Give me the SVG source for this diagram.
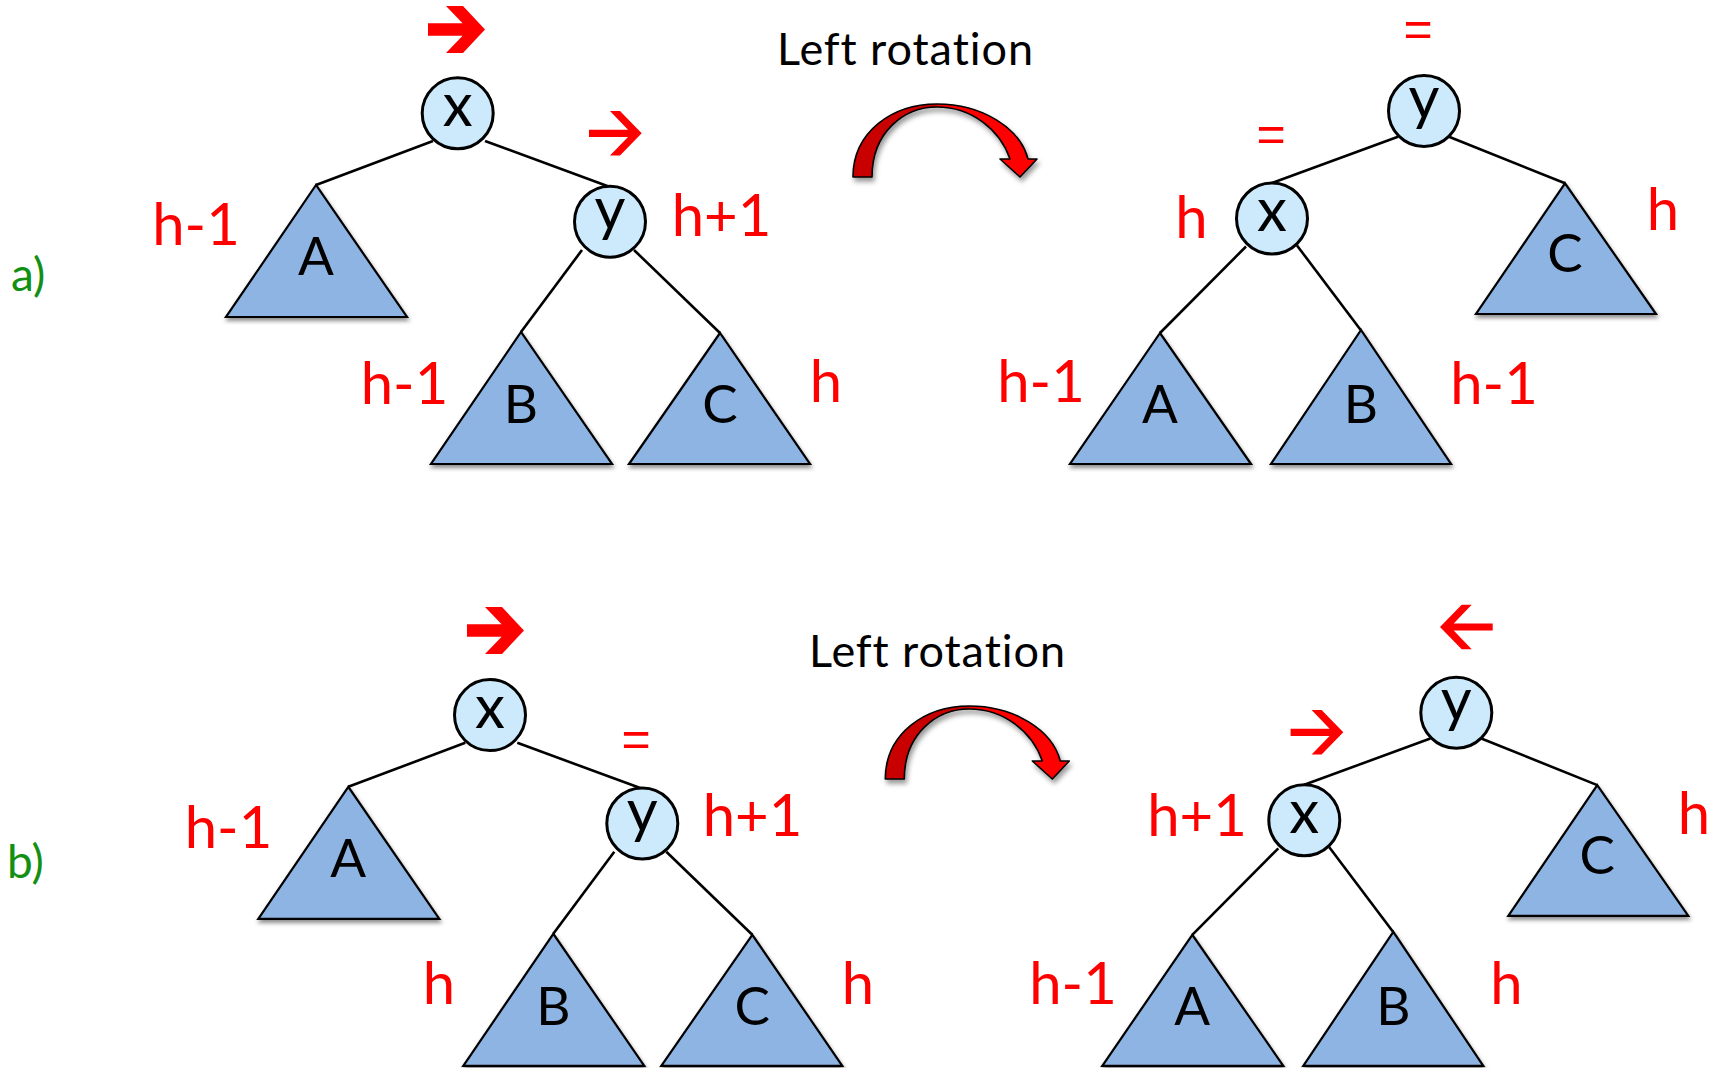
<svg xmlns="http://www.w3.org/2000/svg" width="1721" height="1068" viewBox="0 0 1721 1068">
<defs>
<style>
.edge{stroke:#000;stroke-width:2.6;fill:none}
.node{fill:#cdeafc;stroke:#000;stroke-width:3}
.tri{fill:#8eb4e3;stroke:#000;stroke-width:2.2;stroke-linejoin:miter;filter:url(#sh)}
.nl{font-family:"Lato","Liberation Sans",sans-serif;font-size:60px;fill:#000;text-anchor:middle}
.tl{font-family:"Lato","Liberation Sans",sans-serif;font-size:53px;fill:#000;text-anchor:middle}
.rl{font-family:"Lato","Liberation Sans",sans-serif;font-size:58px;fill:#ff0000;text-anchor:middle}
.eq{font-family:"Liberation Sans",sans-serif;font-size:50px;fill:#ff0000;text-anchor:middle}
.title{font-family:"Lato","Liberation Sans",sans-serif;font-size:45px;fill:#000;text-anchor:middle;font-variant-ligatures:none}
.part{font-family:"Lato","Liberation Sans",sans-serif;font-size:46px;fill:#138f13}
.red{fill:#ff0000}
.curv{fill:url(#cg);stroke:#000;stroke-width:1.6;stroke-linejoin:round;filter:url(#sh2)}
</style>
<filter id="sh" x="-10%" y="-10%" width="120%" height="130%">
<feDropShadow dx="1" dy="3" stdDeviation="2" flood-color="#000" flood-opacity="0.45"/>
</filter>
<filter id="sh2" x="-10%" y="-10%" width="130%" height="140%">
<feDropShadow dx="2" dy="4" stdDeviation="2.5" flood-color="#000" flood-opacity="0.4"/>
</filter>
<linearGradient id="cg" gradientUnits="userSpaceOnUse" x1="853" y1="0" x2="1037" y2="0">
<stop offset="0" stop-color="#c80000"/>
<stop offset="0.457" stop-color="#c80000"/>
<stop offset="0.457" stop-color="#ff0000"/>
<stop offset="1" stop-color="#ff0000"/>
</linearGradient>
<path id="bold" d="M0,0 L-22,-23.5 L-39,-23.5 L-22.4,-6.2 L-57,-6.2 L-57,6.2 L-22.4,6.2 L-39,23.5 L-22,23.5 Z"/>
<path id="thin" d="M0,0 L-21.7,-22.3 L-31.7,-22.3 L-13.7,-3.6 L-52.7,-3.6 L-52.7,3.6 L-13.7,3.6 L-31.7,22.3 L-21.7,22.3 Z"/>
<path id="curve" d="M853,177 C853,132 892,104 937,104 C982,104 1020,128 1028,159 L1037,159 L1020,177 L1000,159 L1010,159 C1000,130 972,107 937,107 C904,107 872,132 872,177 Z"/>
</defs>
<rect width="1721" height="1068" fill="#fff"/>

<!-- ===== Part a ===== -->
<text class="part" x="11" y="291">a)</text>
<text class="title" x="905" y="65" textLength="256" lengthAdjust="spacing">Left rotation</text>
<g id="a-rot-arrow"><use href="#curve" class="curv"/></g>

<g id="a-connectors">
<line class="edge" x1="433" y1="141" x2="316" y2="185"/>
<line class="edge" x1="485" y1="141" x2="610" y2="187"/>
<line class="edge" x1="582" y1="250" x2="521" y2="332"/>
<line class="edge" x1="634" y1="250" x2="720" y2="333"/>
<line class="edge" x1="1398" y1="136.7" x2="1272" y2="183"/>
<line class="edge" x1="1449" y1="136.7" x2="1565" y2="183.3"/>
<line class="edge" x1="1246" y1="246.5" x2="1160" y2="333"/>
<line class="edge" x1="1297" y1="245.5" x2="1360.5" y2="329.7"/>
</g>

<g id="a-L-A"><polygon class="tri" points="316,185 226,317 407,317"/><text class="tl" x="316" y="275">A</text></g>
<g id="a-L-B"><polygon class="tri" points="521,332 431,464 612,464"/><text class="tl" x="521" y="423">B</text></g>
<g id="a-L-C"><polygon class="tri" points="720,333 629,464 810,464"/><text class="tl" x="720" y="423">C</text></g>
<g id="a-L-x"><circle class="node" cx="457.7" cy="113.3" r="35.5"/><text class="nl" x="457.7" y="126">x</text></g>
<g id="a-L-y"><circle class="node" cx="610" cy="221.7" r="35.5"/><text class="nl" x="610" y="230">y</text></g>

<g id="a-R-A"><polygon class="tri" points="1160,333 1070,464 1251,464"/><text class="tl" x="1160" y="423">A</text></g>
<g id="a-R-B"><polygon class="tri" points="1361,330 1271,464 1451,464"/><text class="tl" x="1361" y="423">B</text></g>
<g id="a-R-C"><polygon class="tri" points="1565,183.3 1476,314 1656,314"/><text class="tl" x="1565" y="272">C</text></g>
<g id="a-R-y"><circle class="node" cx="1424" cy="111" r="35.5"/><text class="nl" x="1424" y="119">y</text></g>
<g id="a-R-x"><circle class="node" cx="1272" cy="218.5" r="35.5"/><text class="nl" x="1272" y="231">x</text></g>

<g id="a-labels">
<use href="#bold" class="red" transform="translate(485,29.5)"/>
<use href="#thin" class="red" transform="translate(641.7,133.3)"/>
<text class="rl" x="196" y="245">h-1</text>
<text class="rl" x="721.5" y="236">h+1</text>
<text class="rl" x="404.5" y="404">h-1</text>
<text class="rl" x="826" y="402">h</text>
<text class="eq" x="1418" y="46">=</text>
<text class="eq" x="1271" y="151">=</text>
<text class="rl" x="1191.5" y="238">h</text>
<text class="rl" x="1663" y="230">h</text>
<text class="rl" x="1041" y="402">h-1</text>
<text class="rl" x="1494" y="404">h-1</text>
</g>

<!-- ===== Part b ===== -->
<text class="part" x="7" y="878">b)</text>
<text class="title" x="937" y="667" textLength="256" lengthAdjust="spacing">Left rotation</text>
<g id="b-rot-arrow" transform="translate(32.3,602)"><use href="#curve" class="curv"/></g>

<g id="b-connectors" transform="translate(32.3,601.8)">
<line class="edge" x1="433" y1="141" x2="316" y2="185"/>
<line class="edge" x1="485" y1="141" x2="610" y2="187"/>
<line class="edge" x1="582" y1="250" x2="521" y2="332"/>
<line class="edge" x1="634" y1="250" x2="720" y2="333"/>
<line class="edge" x1="1398" y1="136.7" x2="1272" y2="183"/>
<line class="edge" x1="1449" y1="136.7" x2="1565" y2="183.3"/>
<line class="edge" x1="1246" y1="246.5" x2="1160" y2="333"/>
<line class="edge" x1="1297" y1="245.5" x2="1360.5" y2="329.7"/>
</g>

<g id="b-L-A" transform="translate(32.3,601.8)"><polygon class="tri" points="316,185 226,317 407,317"/><text class="tl" x="316" y="275">A</text></g>
<g id="b-L-B" transform="translate(32.3,601.8)"><polygon class="tri" points="521,332 431,464 612,464"/><text class="tl" x="521" y="423">B</text></g>
<g id="b-L-C" transform="translate(32.3,601.8)"><polygon class="tri" points="720,333 629,464 810,464"/><text class="tl" x="720" y="423">C</text></g>
<g id="b-L-x" transform="translate(32.3,601.8)"><circle class="node" cx="457.7" cy="113.3" r="35.5"/><text class="nl" x="457.7" y="126">x</text></g>
<g id="b-L-y" transform="translate(32.3,601.8)"><circle class="node" cx="610" cy="221.7" r="35.5"/><text class="nl" x="610" y="230">y</text></g>

<g id="b-R-A" transform="translate(32.3,601.8)"><polygon class="tri" points="1160,333 1070,464 1251,464"/><text class="tl" x="1160" y="423">A</text></g>
<g id="b-R-B" transform="translate(32.3,601.8)"><polygon class="tri" points="1361,330 1271,464 1451,464"/><text class="tl" x="1361" y="423">B</text></g>
<g id="b-R-C" transform="translate(32.3,601.8)"><polygon class="tri" points="1565,183.3 1476,314 1656,314"/><text class="tl" x="1565" y="272">C</text></g>
<g id="b-R-y" transform="translate(32.3,601.8)"><circle class="node" cx="1424" cy="111" r="35.5"/><text class="nl" x="1424" y="119">y</text></g>
<g id="b-R-x" transform="translate(32.3,601.8)"><circle class="node" cx="1272" cy="218.5" r="35.5"/><text class="nl" x="1272" y="231">x</text></g>

<g id="b-labels">
<use href="#bold" class="red" transform="translate(524,630.5)"/>
<text class="eq" x="636" y="756">=</text>
<use href="#thin" class="red" transform="translate(1440,627) scale(-1,1)"/>
<use href="#thin" class="red" transform="translate(1343.3,732.3)"/>
<text class="rl" x="228.5" y="848">h-1</text>
<text class="rl" x="752.5" y="836">h+1</text>
<text class="rl" x="439" y="1004">h</text>
<text class="rl" x="858" y="1004">h</text>
<text class="rl" x="1197" y="836">h+1</text>
<text class="rl" x="1694" y="834">h</text>
<text class="rl" x="1073" y="1004">h-1</text>
<text class="rl" x="1506.5" y="1004">h</text>
</g>
</svg>
